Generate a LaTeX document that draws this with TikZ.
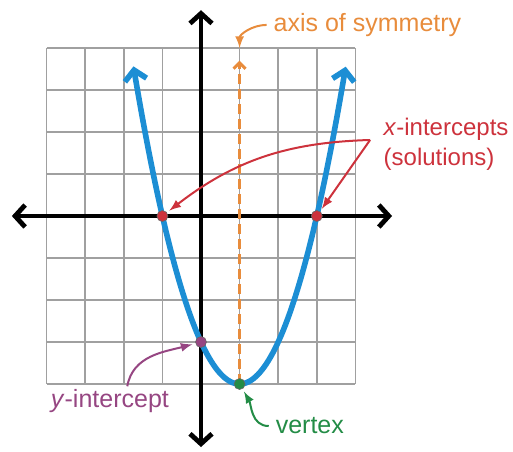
\documentclass[tikz,border=0pt]{standalone}
\usepackage{fontspec}
\setmainfont{Liberation Sans}
\usepackage{xcolor}
\usepackage{tikz}
\usetikzlibrary{calc, arrows.meta, positioning}

\definecolor{curveblue}{RGB}{28,142,212}
\definecolor{axisorange}{RGB}{232,140,60}
\definecolor{markred}{RGB}{205,50,60}
\definecolor{markpurple}{RGB}{150,70,130}
\definecolor{markgreen}{RGB}{35,140,70}
\definecolor{gridgray}{RGB}{160,160,160}

\tikzset{
  gridline/.style={gridgray, line width=0.8pt},
  axisline/.style={line width=2.4pt, arrows={Straight Barb[length=5pt,width=11pt]-Straight Barb[length=5pt,width=11pt]}},
  curveline/.style={curveblue, line width=2.8pt, arrows={Straight Barb[length=5pt,width=11pt]-Straight Barb[length=5pt,width=11pt]}},
  dot/.style={circle, inner sep=0pt, minimum size=5.5pt, draw=black!60, line width=0.3pt},
  note/.style={line width=1pt, ->, shorten >=1.5pt},
}

\begin{document}
\begin{tikzpicture}[>=latex, x=19.3pt, y=21pt, font=\fontsize{12.5}{15}\selectfont]
            \useasboundingbox (-5.207,-5.595) rectangle (8.083,5.143);
            % 1. Grid
            \draw[gridline, step=1] (-4,-4) grid (4,4);

            % 2. Axes
            \draw[axisline] (-4.9,0) -- (4.95,0);
            \draw[axisline] (0,-5.5) -- (0,4.9);

            % 3. Axis of symmetry x = 1
            \draw[axisorange, line width=1.5pt, dash pattern=on 5pt off 2.5pt,
                  -{Straight Barb[length=3pt,width=6pt]}] (1,-4) -- (1,3.7);

            % 4. Parabola y = x^2 - 2x - 3
            \draw[curveline, samples=100, domain=-1.75:3.75]
                plot (\x, {\x*\x-2*\x-3});

            % 5. Marked points
            \node[dot, fill=markred] (xA) at (-1,0) {};
            \node[dot, fill=markred] (xB) at (3,0) {};
            \node[dot, fill=markpurple] (yA) at (0,-3) {};
            \node[dot, fill=markgreen] (vtx) at (1,-4) {};
            \coordinate (gridtop) at (1,4);

            % 6. Labels
            \node[anchor=west, text=axisorange] (axislbl) at (1.7,4.55) {axis of symmetry};
            \draw[note, axisorange, shorten >=0pt] (axislbl.west) to[out=180, in=90] (gridtop);

            \node[anchor=west, align=left, text=markred, font=\fontsize{12}{15}\selectfont]
                (xlbl) at (4.55,1.7) {\textit{x}-intercepts\\(solutions)};
            \coordinate (apex) at (4.38,1.81);
            \draw[note, markred] (apex) to[bend right=18] (xA);
            \draw[note, markred] (apex) -- (xB);

            \node[text=markpurple] (ylbl) at (-2.36,-4.4) {\textit{y}-intercept};
            \draw[note, markpurple] ($(ylbl.north)+(0.45,-0.1)$) to[out=80, in=195] (yA);

            \node[text=markgreen] (vlbl) at (2.82,-5.0) {vertex};
            \draw[note, markgreen] (vlbl.west) to[out=180, in=-60] (vtx);
        \end{tikzpicture}
\end{document}
